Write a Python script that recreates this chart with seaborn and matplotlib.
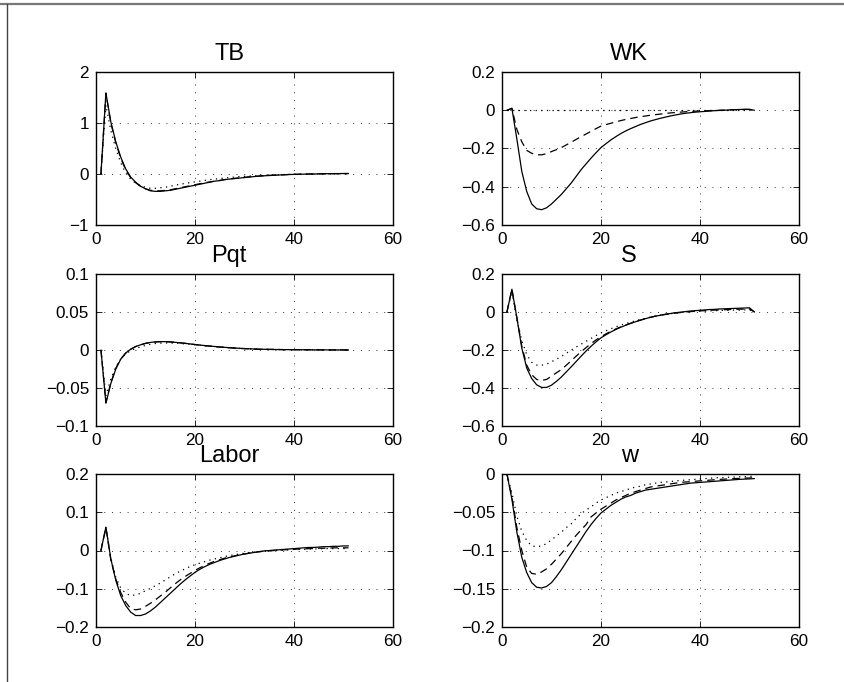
import matplotlib
matplotlib.use("Agg")
import matplotlib.pyplot as plt
import matplotlib.ticker as mticker
from matplotlib.lines import Line2D
import numpy as np
import pandas as pd
import seaborn as sns

# ---------------- data (x = 1..51) ----------------
periods = list(range(1, 52))

tb_solid = [0, 1.59, 1.02, 0.63, 0.33, 0.10, -0.06, -0.16, -0.24, -0.29, -0.33, -0.34, -0.34, -0.33, -0.32,
            -0.30, -0.28, -0.26, -0.24, -0.22, -0.20, -0.18, -0.16, -0.14, -0.13, -0.11, -0.10, -0.09, -0.08,
            -0.07, -0.06, -0.05, -0.04, -0.035, -0.03, -0.025, -0.02, -0.015, -0.01, -0.008, -0.005, -0.003,
            0.0, 0.0, 0.003, 0.005, 0.006, 0.008, 0.008, 0.01, 0.01]
tb_dashed = [0, 1.58, 1.0, 0.61, 0.31, 0.08, -0.07, -0.17, -0.24, -0.29, -0.32, -0.33, -0.33, -0.32, -0.31,
             -0.29, -0.27, -0.25, -0.23, -0.21, -0.19, -0.17, -0.155, -0.14, -0.125, -0.11, -0.095, -0.085,
             -0.075, -0.065, -0.055, -0.047, -0.04, -0.033, -0.027, -0.022, -0.018, -0.014, -0.01, -0.007,
             -0.005, -0.003, -0.001, 0.0, 0.002, 0.004, 0.005, 0.006, 0.007, 0.008, 0.008]
tb_dotted = [0, 1.35, 0.85, 0.50, 0.22, 0.02, -0.10, -0.18, -0.23, -0.26, -0.28, -0.28, -0.27, -0.26, -0.24,
             -0.22, -0.20, -0.185, -0.17, -0.155, -0.14, -0.125, -0.11, -0.10, -0.09, -0.08, -0.07, -0.06,
             -0.05, -0.045, -0.04, -0.035, -0.03, -0.025, -0.02, -0.017, -0.014, -0.011, -0.008, -0.006,
             -0.004, -0.002, 0.0, 0.0, 0.002, 0.003, 0.004, 0.005, 0.005, 0.006, 0.006]

wk_solid = [0, 0.01, -0.15, -0.32, -0.425, -0.49, -0.515, -0.52, -0.51, -0.49, -0.465, -0.44, -0.41, -0.38,
            -0.345, -0.31, -0.28, -0.25, -0.222, -0.195, -0.175, -0.155, -0.138, -0.122, -0.108, -0.096,
            -0.085, -0.074, -0.065, -0.056, -0.049, -0.042, -0.036, -0.03, -0.025, -0.02, -0.016, -0.013,
            -0.01, -0.008, -0.006, -0.004, -0.002, -0.001, 0.0, 0.002, 0.003, 0.004, 0.005, 0.005, 0.0]
wk_dashed = [0, 0.01, -0.10, -0.165, -0.21, -0.225, -0.233, -0.233, -0.227, -0.216, -0.206, -0.195, -0.181,
             -0.167, -0.152, -0.138, -0.124, -0.11, -0.096, -0.083, -0.075, -0.068, -0.061, -0.054, -0.048,
             -0.043, -0.038, -0.034, -0.03, -0.026, -0.023, -0.02, -0.017, -0.014, -0.012, -0.01, -0.008,
             -0.006, -0.005, -0.004, -0.003, -0.002, -0.001, 0.0, 0.001, 0.002, 0.003, 0.003, 0.004, 0.004, 0.0]
wk_dotted = [0.0] * 51

pqt_solid = [0, -0.07, -0.044, -0.025, -0.012, -0.004, 0.001, 0.0045, 0.0068, 0.0088, 0.0100, 0.0107, 0.011,
             0.011, 0.0107, 0.0101, 0.0095, 0.0088, 0.008, 0.0072, 0.0065, 0.0058, 0.0052, 0.0046, 0.004,
             0.0035, 0.003, 0.0026, 0.0022, 0.0019, 0.0016, 0.0013, 0.0011, 0.0009, 0.0008, 0.0007, 0.0006,
             0.0005, 0.0005, 0.0004, 0.0004, 0.0003, 0.0003, 0.0002, 0.0002, 0.0002, 0.0001, 0.0001, 0.0001,
             0.0001, 0.0]
pqt_dashed = [0, -0.069, -0.043, -0.024, -0.012, -0.004, 0.001, 0.0045, 0.0067, 0.0087, 0.0099, 0.0106, 0.0109,
              0.0109, 0.0106, 0.0100, 0.0094, 0.0087, 0.0079, 0.0071, 0.0064, 0.0057, 0.0051, 0.0045, 0.0039,
              0.0034, 0.0029, 0.0025, 0.0021, 0.0018, 0.0015, 0.0012, 0.001, 0.0009, 0.0008, 0.0007, 0.0006,
              0.0005, 0.0005, 0.0004, 0.0004, 0.0003, 0.0003, 0.0002, 0.0002, 0.0002, 0.0001, 0.0001, 0.0001,
              0.0001, 0.0]
pqt_dotted = [0, -0.06, -0.038, -0.022, -0.012, -0.005, -0.001, 0.002, 0.004, 0.006, 0.0075, 0.0085, 0.009,
              0.0092, 0.0092, 0.009, 0.0086, 0.008, 0.0075, 0.007, 0.0063, 0.0056, 0.005, 0.0044, 0.0038,
              0.0033, 0.0029, 0.0025, 0.0021, 0.0018, 0.0015, 0.0012, 0.001, 0.0009, 0.0008, 0.0007, 0.0006,
              0.0005, 0.0005, 0.0004, 0.0004, 0.0003, 0.0003, 0.0002, 0.0002, 0.0002, 0.0001, 0.0001, 0.0001,
              0.0001, 0.0]

s_solid = [0, 0.12, -0.03, -0.19, -0.295, -0.35, -0.383, -0.397, -0.397, -0.385, -0.365, -0.342, -0.315,
           -0.288, -0.26, -0.232, -0.205, -0.18, -0.157, -0.136, -0.12, -0.105, -0.092, -0.08, -0.07, -0.06,
           -0.051, -0.043, -0.035, -0.028, -0.022, -0.017, -0.012, -0.008, -0.004, -0.001, 0.002, 0.005, 0.007,
           0.009, 0.011, 0.013, 0.014, 0.016, 0.017, 0.018, 0.019, 0.02, 0.021, 0.022, 0.0]
s_dashed = [0, 0.12, -0.03, -0.18, -0.28, -0.33, -0.355, -0.36, -0.355, -0.338, -0.32, -0.303, -0.28, -0.256,
            -0.232, -0.209, -0.187, -0.166, -0.147, -0.13, -0.115, -0.101, -0.089, -0.078, -0.068, -0.059,
            -0.05, -0.042, -0.035, -0.028, -0.022, -0.017, -0.013, -0.009, -0.006, -0.003, 0.0, 0.002, 0.004,
            0.006, 0.007, 0.009, 0.01, 0.011, 0.012, 0.013, 0.014, 0.015, 0.015, 0.016, 0.0]
s_dotted = [0, 0.11, -0.04, -0.15, -0.225, -0.265, -0.279, -0.28, -0.274, -0.262, -0.248, -0.234, -0.217, -0.2,
            -0.184, -0.169, -0.154, -0.139, -0.124, -0.11, -0.099, -0.088, -0.078, -0.069, -0.061, -0.053,
            -0.046, -0.039, -0.033, -0.027, -0.022, -0.017, -0.013, -0.009, -0.006, -0.003, -0.001, 0.001,
            0.003, 0.004, 0.005, 0.006, 0.007, 0.008, 0.009, 0.009, 0.01, 0.01, 0.011, 0.011, 0.0]

labor_solid = [0, 0.061, -0.022, -0.078, -0.118, -0.144, -0.161, -0.17, -0.17, -0.166, -0.158, -0.148, -0.136,
               -0.124, -0.112, -0.1, -0.088, -0.077, -0.067, -0.057, -0.049, -0.042, -0.036, -0.031, -0.026,
               -0.022, -0.018, -0.015, -0.012, -0.009, -0.007, -0.005, -0.003, -0.001, 0.0, 0.001, 0.002,
               0.003, 0.004, 0.005, 0.006, 0.007, 0.008, 0.008, 0.009, 0.01, 0.01, 0.011, 0.011, 0.012, 0.012]
labor_dashed = [0, 0.06, -0.025, -0.075, -0.11, -0.135, -0.152, -0.155, -0.153, -0.146, -0.138, -0.129, -0.119,
                -0.109, -0.098, -0.087, -0.077, -0.068, -0.06, -0.052, -0.045, -0.039, -0.033, -0.028, -0.024,
                -0.02, -0.017, -0.014, -0.011, -0.009, -0.007, -0.005, -0.003, -0.002, -0.001, 0.0, 0.001,
                0.002, 0.002, 0.003, 0.004, 0.004, 0.005, 0.005, 0.006, 0.006, 0.006, 0.007, 0.007, 0.007, 0.007]
labor_dotted = [0, 0.06, -0.02, -0.07, -0.098, -0.112, -0.118, -0.116, -0.112, -0.105, -0.099, -0.092, -0.085,
                -0.077, -0.069, -0.061, -0.054, -0.048, -0.042, -0.037, -0.033, -0.029, -0.025, -0.022, -0.019,
                -0.016, -0.013, -0.011, -0.009, -0.007, -0.005, -0.004, -0.003, -0.002, -0.001, 0.0, 0.001,
                0.001, 0.002, 0.003, 0.003, 0.003, 0.004, 0.004, 0.004, 0.005, 0.005, 0.005, 0.005, 0.005, 0.005]

w_solid = [0, -0.033, -0.076, -0.109, -0.129, -0.142, -0.148, -0.149, -0.147, -0.142, -0.134, -0.125, -0.115,
           -0.105, -0.095, -0.085, -0.075, -0.066, -0.058, -0.051, -0.046, -0.041, -0.037, -0.033, -0.03, -0.028,
           -0.025, -0.023, -0.021, -0.02, -0.019, -0.018, -0.017, -0.016, -0.015, -0.014, -0.013, -0.012,
           -0.0115, -0.011, -0.0105, -0.01, -0.0095, -0.009, -0.0085, -0.008, -0.0075, -0.007, -0.0067,
           -0.0064, -0.006]
w_dashed = [0, -0.03, -0.07, -0.1, -0.122, -0.13, -0.131, -0.128, -0.124, -0.118, -0.111, -0.104, -0.096,
            -0.088, -0.08, -0.073, -0.066, -0.056, -0.051, -0.046, -0.042, -0.038, -0.034, -0.031, -0.028,
            -0.025, -0.023, -0.021, -0.019, -0.017, -0.016, -0.015, -0.014, -0.013, -0.012, -0.011, -0.0105,
            -0.01, -0.0095, -0.009, -0.0085, -0.008, -0.0075, -0.007, -0.0067, -0.0063, -0.006, -0.0057,
            -0.0054, -0.0052, -0.005]
w_dotted = [0, -0.025, -0.055, -0.075, -0.087, -0.094, -0.095, -0.094, -0.091, -0.086, -0.081, -0.076, -0.07,
            -0.065, -0.058, -0.052, -0.047, -0.043, -0.038, -0.034, -0.031, -0.028, -0.025, -0.023, -0.021,
            -0.019, -0.017, -0.016, -0.014, -0.013, -0.012, -0.011, -0.0105, -0.01, -0.009, -0.0085, -0.008,
            -0.0075, -0.007, -0.0065, -0.006, -0.0055, -0.005, -0.0048, -0.0045, -0.0042, -0.004, -0.0037,
            -0.0035, -0.0032, -0.003]

titles = ["TB", "WK", "Pqt", "S", "Labor", "w"]
series_sets = [
    (tb_solid, tb_dashed, tb_dotted),
    (wk_solid, wk_dashed, wk_dotted),
    (pqt_solid, pqt_dashed, pqt_dotted),
    (s_solid, s_dashed, s_dotted),
    (labor_solid, labor_dashed, labor_dotted),
    (w_solid, w_dashed, w_dotted),
]
ylims = [(-1, 2), (-0.6, 0.2), (-0.1, 0.1), (-0.6, 0.2), (-0.2, 0.2), (-0.2, 0.0)]
yticks = [[-1, 0, 1, 2], [-0.6, -0.4, -0.2, 0, 0.2], [-0.1, -0.05, 0, 0.05, 0.1],
          [-0.6, -0.4, -0.2, 0, 0.2], [-0.2, -0.1, 0, 0.1, 0.2], [-0.2, -0.15, -0.1, -0.05, 0]]
xticks = [0, 20, 40, 60]

# ---------------- styling ----------------
sns.set_theme(style="white")
plt.rcParams["font.family"] = ["Liberation Sans", "DejaVu Sans"]
plt.rcParams["axes.unicode_minus"] = True

W, H = 844, 682
fig = plt.figure(figsize=(W / 100, H / 100), dpi=100)
fig.patch.set_facecolor("white")

col_left = [96, 502]
row_top = [72, 274, 474]
row_bot = [225, 426, 627]
ax_w = 297
title_x = [0.448, 0.428]

def fmt(v, pos):
    s = f"{v:g}"
    return s.replace("-", "\u2212")

style_order = ["solid", "dashed", "dotted"]
dash_map = {"solid": "", "dashed": (6, 4), "dotted": (1, 3.5)}

for i, (title, sers) in enumerate(zip(titles, series_sets)):
    r, c = divmod(i, 2)
    left = col_left[c] / W
    bottom = 1 - row_bot[r] / H
    height = (row_bot[r] - row_top[r]) / H
    ax = fig.add_axes([left, bottom, ax_w / W, height])
    df = pd.DataFrame({
        "t": periods * 3,
        "v": list(sers[0]) + list(sers[1]) + list(sers[2]),
        "series": ["solid"] * 51 + ["dashed"] * 51 + ["dotted"] * 51,
    })
    sns.lineplot(data=df, x="t", y="v", style="series", style_order=style_order,
                 dashes=dash_map, color="black", linewidth=0.9, legend=False, ax=ax,
                 errorbar=None, sort=False)
    ax.set_xlim(0, 60)
    ax.set_ylim(*ylims[i])
    ax.set_xticks(xticks)
    ax.set_yticks(yticks[i])
    ax.xaxis.set_major_formatter(mticker.FuncFormatter(fmt))
    ax.yaxis.set_major_formatter(mticker.FuncFormatter(fmt))
    ax.set_xlabel("")
    ax.set_ylabel("")
    ax.grid(True, color="#333333", linestyle=(0, (1, 7)), linewidth=0.7)
    ax.set_axisbelow(True)
    for sp in ax.spines.values():
        sp.set_visible(True)
        sp.set_color("black")
        sp.set_linewidth(1.0)
    ax.tick_params(direction="in", length=4, width=0.6, colors="black", labelsize=12.3,
                   top=True, right=True, bottom=True, left=True, pad=5)
    ax.set_title(title, fontsize=17, pad=8.5, color="black", x=title_x[c])

# figure frame lines (as in the exported image)
fig.add_artist(Line2D([0, 1], [1 - 3.5 / H, 1 - 3.5 / H], transform=fig.transFigure,
                      color="#777777", linewidth=1.6))
fig.add_artist(Line2D([6.5 / W, 6.5 / W], [0, 1 - 3.5 / H], transform=fig.transFigure,
                      color="#444444", linewidth=1.0))

fig.savefig("out.png", dpi=100, facecolor="white")
